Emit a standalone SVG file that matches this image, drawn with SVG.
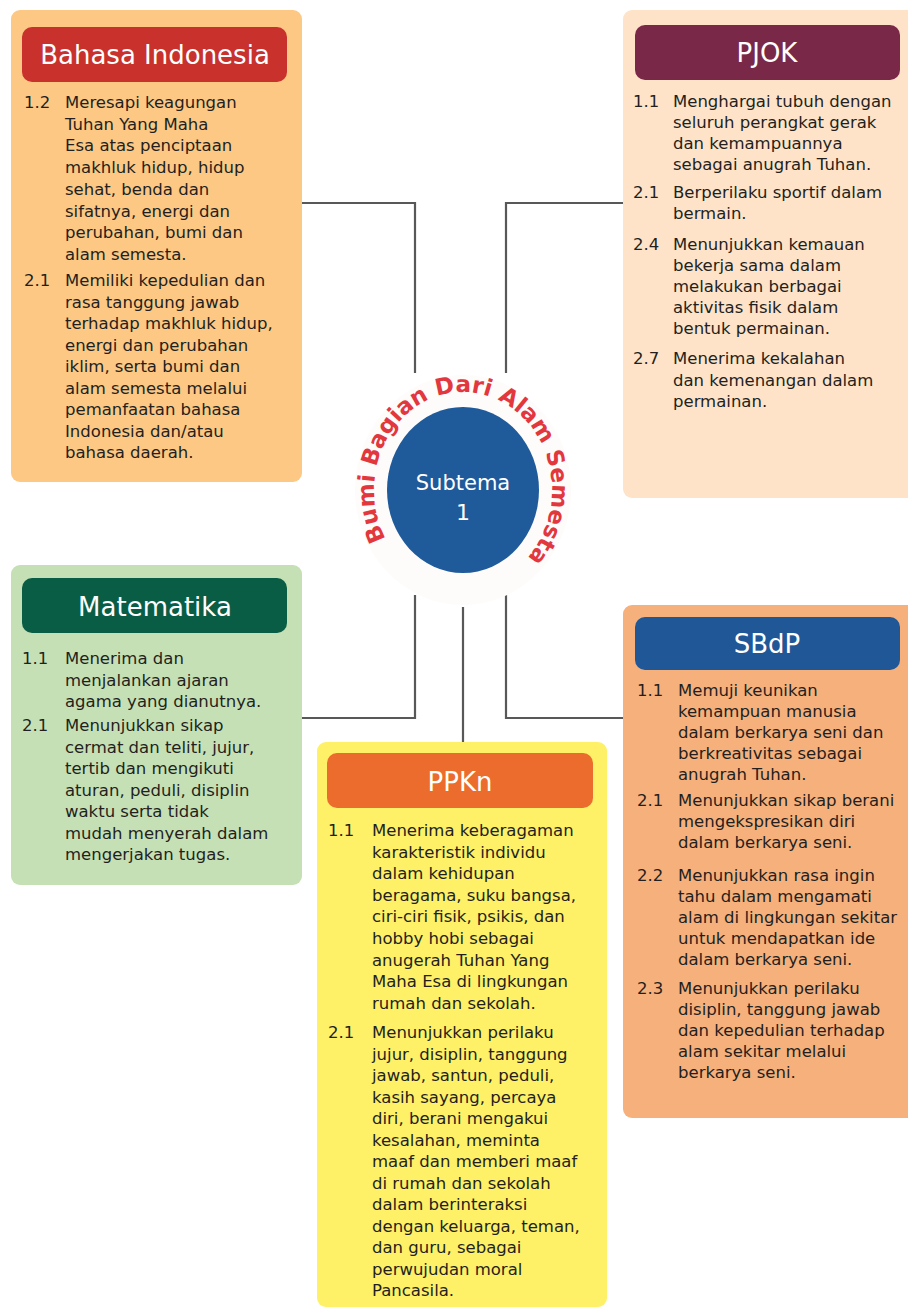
<svg xmlns="http://www.w3.org/2000/svg" xmlns:xlink="http://www.w3.org/1999/xlink" width="908" height="1307" viewBox="0 0 908 1307">
  <style>
    .box { stroke: none; }
    .hdr { stroke: none; }
    .title { font-family: "DejaVu Sans", "Liberation Sans", sans-serif; font-size: 26px; fill: #ffffff; text-anchor: middle; }
    .body { font-family: "DejaVu Sans", "Liberation Sans", sans-serif; font-size: 16.5px; fill: #231f20; }
    .link { fill: none; stroke: #585858; stroke-width: 2.2; }
    .arc { font-family: "DejaVu Sans", "Liberation Sans", sans-serif; font-size: 23px; font-weight: bold; fill: #e2373d; }
  </style>
  <defs>
    <!-- baseline ring for the theme title, clockwise from lower left to lower right -->
    <path id="ring" d="M 385.9 539 A 89 98 0 1 1 522.6 562.8"/>
  </defs>
  <rect width="908" height="1307" fill="#ffffff"/>

  <!-- connectors -->
  <g id="connectors">
    <path class="link" d="M302 203 H415 V373"/>
    <path class="link" d="M625 203 H506 V373"/>
    <path class="link" d="M302 718 H415 V595"/>
    <path class="link" d="M625 718 H506 V595"/>
    <path class="link" d="M463 607 V742"/>
  </g>

  <!-- center theme -->
  <g id="subtema">
    <ellipse cx="463" cy="490" rx="108" ry="115" fill="#fefcfa"/>
    <ellipse cx="463" cy="490" rx="76" ry="83" fill="#1f5a9a"/>
    <text class="title" x="463" y="490" style="font-size:21px">Subtema</text>
    <text class="title" x="463" y="520" style="font-size:22px">1</text>
    <text class="arc"><textPath xlink:href="#ring" href="#ring" startOffset="0">Bumi</textPath></text>
    <text class="arc"><textPath xlink:href="#ring" href="#ring" startOffset="73.8">Bagian</textPath></text>
    <text class="arc"><textPath xlink:href="#ring" href="#ring" startOffset="171">Dari Alam</textPath></text>
    <text class="arc"><textPath xlink:href="#ring" href="#ring" startOffset="306">Semesta</textPath></text>
  </g>

  <!-- Bahasa Indonesia -->
  <g id="bahasa-indonesia">
    <rect class="box" x="11" y="10" width="291" height="472" rx="9" fill="#fcc883"/>
    <rect class="hdr" x="22" y="27" width="265" height="55" rx="10" fill="#c8312c"/>
    <text class="title" x="155" y="64">Bahasa Indonesia</text>
    <text class="body" x="24" y="108">1.2</text>
    <text class="body" y="108">
      <tspan x="65">Meresapi keagungan</tspan>
      <tspan x="65" dy="21.7">Tuhan Yang  Maha</tspan>
      <tspan x="65" dy="21.7">Esa  atas penciptaan</tspan>
      <tspan x="65" dy="21.7">makhluk hidup, hidup</tspan>
      <tspan x="65" dy="21.7">sehat, benda dan</tspan>
      <tspan x="65" dy="21.7">sifatnya, energi dan</tspan>
      <tspan x="65" dy="21.7">perubahan, bumi dan</tspan>
      <tspan x="65" dy="21.7">alam semesta.</tspan>
    </text>
    <text class="body" x="24" y="286">2.1</text>
    <text class="body" y="286">
      <tspan x="65">Memiliki kepedulian dan</tspan>
      <tspan x="65" dy="21.5">rasa tanggung jawab</tspan>
      <tspan x="65" dy="21.5">terhadap makhluk hidup,</tspan>
      <tspan x="65" dy="21.5">energi dan perubahan</tspan>
      <tspan x="65" dy="21.5">iklim, serta bumi dan</tspan>
      <tspan x="65" dy="21.5">alam semesta melalui</tspan>
      <tspan x="65" dy="21.5">pemanfaatan bahasa</tspan>
      <tspan x="65" dy="21.5">Indonesia dan/atau</tspan>
      <tspan x="65" dy="21.5">bahasa daerah.</tspan>
    </text>
  </g>

  <!-- PJOK -->
  <g id="pjok">
    <rect class="box" x="623" y="10" width="300" height="488" rx="9" fill="#fee3c8"/>
    <rect class="hdr" x="635" y="25" width="265" height="55" rx="10" fill="#7a2848"/>
    <text class="title" x="767" y="62">PJOK</text>
    <text class="body" x="633" y="107">1.1</text>
    <text class="body" y="107">
      <tspan x="673">Menghargai tubuh dengan</tspan>
      <tspan x="673" dy="21">seluruh perangkat gerak</tspan>
      <tspan x="673" dy="21">dan kemampuannya</tspan>
      <tspan x="673" dy="21">sebagai anugrah Tuhan.</tspan>
    </text>
    <text class="body" x="633" y="198">2.1</text>
    <text class="body" y="198">
      <tspan x="673">Berperilaku sportif dalam</tspan>
      <tspan x="673" dy="21">bermain.</tspan>
    </text>
    <text class="body" x="633" y="250">2.4</text>
    <text class="body" y="250">
      <tspan x="673">Menunjukkan kemauan</tspan>
      <tspan x="673" dy="21">bekerja sama dalam</tspan>
      <tspan x="673" dy="21">melakukan berbagai</tspan>
      <tspan x="673" dy="21">aktivitas fisik dalam</tspan>
      <tspan x="673" dy="21">bentuk permainan.</tspan>
    </text>
    <text class="body" x="633" y="364">2.7</text>
    <text class="body" y="364">
      <tspan x="673">Menerima kekalahan</tspan>
      <tspan x="673" dy="21.5">dan kemenangan dalam</tspan>
      <tspan x="673" dy="21.5">permainan.</tspan>
    </text>
  </g>

  <!-- Matematika -->
  <g id="matematika">
    <rect class="box" x="11" y="565" width="291" height="320" rx="9" fill="#c6e0b5"/>
    <rect class="hdr" x="22" y="578" width="265" height="55" rx="10" fill="#0a5d45"/>
    <text class="title" x="155" y="616">Matematika</text>
    <text class="body" x="22" y="664">1.1</text>
    <text class="body" y="664">
      <tspan x="65">Menerima dan</tspan>
      <tspan x="65" dy="21.5">menjalankan ajaran</tspan>
      <tspan x="65" dy="21.5">agama yang dianutnya.</tspan>
    </text>
    <text class="body" x="22" y="731">2.1</text>
    <text class="body" y="731">
      <tspan x="65">Menunjukkan sikap</tspan>
      <tspan x="65" dy="21.5">cermat dan teliti, jujur,</tspan>
      <tspan x="65" dy="21.5">tertib dan mengikuti</tspan>
      <tspan x="65" dy="21.5">aturan, peduli, disiplin</tspan>
      <tspan x="65" dy="21.5">waktu serta tidak</tspan>
      <tspan x="65" dy="21.5">mudah menyerah dalam</tspan>
      <tspan x="65" dy="21.5">mengerjakan tugas.</tspan>
    </text>
  </g>

  <!-- SBdP -->
  <g id="sbdp">
    <rect class="box" x="623" y="605" width="300" height="513" rx="9" fill="#f6b07b"/>
    <rect class="hdr" x="635" y="617" width="265" height="53" rx="10" fill="#1f5797"/>
    <text class="title" x="767" y="653">SBdP</text>
    <text class="body" x="637" y="696">1.1</text>
    <text class="body" y="696">
      <tspan x="678">Memuji keunikan</tspan>
      <tspan x="678" dy="21">kemampuan manusia</tspan>
      <tspan x="678" dy="21">dalam berkarya seni dan</tspan>
      <tspan x="678" dy="21">berkreativitas sebagai</tspan>
      <tspan x="678" dy="21">anugrah Tuhan.</tspan>
    </text>
    <text class="body" x="637" y="806">2.1</text>
    <text class="body" y="806">
      <tspan x="678">Menunjukkan sikap berani</tspan>
      <tspan x="678" dy="21">mengekspresikan diri</tspan>
      <tspan x="678" dy="21">dalam berkarya seni.</tspan>
    </text>
    <text class="body" x="637" y="881">2.2</text>
    <text class="body" y="881">
      <tspan x="678">Menunjukkan rasa ingin</tspan>
      <tspan x="678" dy="21">tahu dalam mengamati</tspan>
      <tspan x="678" dy="21">alam di lingkungan sekitar</tspan>
      <tspan x="678" dy="21">untuk mendapatkan ide</tspan>
      <tspan x="678" dy="21">dalam berkarya seni.</tspan>
    </text>
    <text class="body" x="637" y="994">2.3</text>
    <text class="body" y="994">
      <tspan x="678">Menunjukkan perilaku</tspan>
      <tspan x="678" dy="21">disiplin, tanggung jawab</tspan>
      <tspan x="678" dy="21">dan kepedulian terhadap</tspan>
      <tspan x="678" dy="21">alam sekitar melalui</tspan>
      <tspan x="678" dy="21">berkarya seni.</tspan>
    </text>
  </g>

  <!-- PPKn -->
  <g id="ppkn">
    <rect class="box" x="317" y="742" width="290" height="565" rx="9" fill="#fef067"/>
    <rect class="hdr" x="327" y="753" width="266" height="55" rx="10" fill="#eb6c2c"/>
    <text class="title" x="460" y="791">PPKn</text>
    <text class="body" x="328" y="836">1.1</text>
    <text class="body" y="836">
      <tspan x="372">Menerima keberagaman</tspan>
      <tspan x="372" dy="21.6">karakteristik individu</tspan>
      <tspan x="372" dy="21.6">dalam kehidupan</tspan>
      <tspan x="372" dy="21.6">beragama, suku bangsa,</tspan>
      <tspan x="372" dy="21.6">ciri-ciri fisik, psikis, dan</tspan>
      <tspan x="372" dy="21.6">hobby hobi sebagai</tspan>
      <tspan x="372" dy="21.6">anugerah Tuhan Yang</tspan>
      <tspan x="372" dy="21.6">Maha Esa di lingkungan</tspan>
      <tspan x="372" dy="21.6">rumah dan sekolah.</tspan>
    </text>
    <text class="body" x="328" y="1038">2.1</text>
    <text class="body" y="1038">
      <tspan x="372">Menunjukkan perilaku</tspan>
      <tspan x="372" dy="21.5">jujur, disiplin, tanggung</tspan>
      <tspan x="372" dy="21.5">jawab, santun, peduli,</tspan>
      <tspan x="372" dy="21.5">kasih sayang, percaya</tspan>
      <tspan x="372" dy="21.5">diri, berani mengakui</tspan>
      <tspan x="372" dy="21.5">kesalahan, meminta</tspan>
      <tspan x="372" dy="21.5">maaf dan memberi maaf</tspan>
      <tspan x="372" dy="21.5">di rumah dan sekolah</tspan>
      <tspan x="372" dy="21.5">dalam berinteraksi</tspan>
      <tspan x="372" dy="21.5">dengan keluarga, teman,</tspan>
      <tspan x="372" dy="21.5">dan guru, sebagai</tspan>
      <tspan x="372" dy="21.5">perwujudan moral</tspan>
      <tspan x="372" dy="21.5">Pancasila.</tspan>
    </text>
  </g>
</svg>
